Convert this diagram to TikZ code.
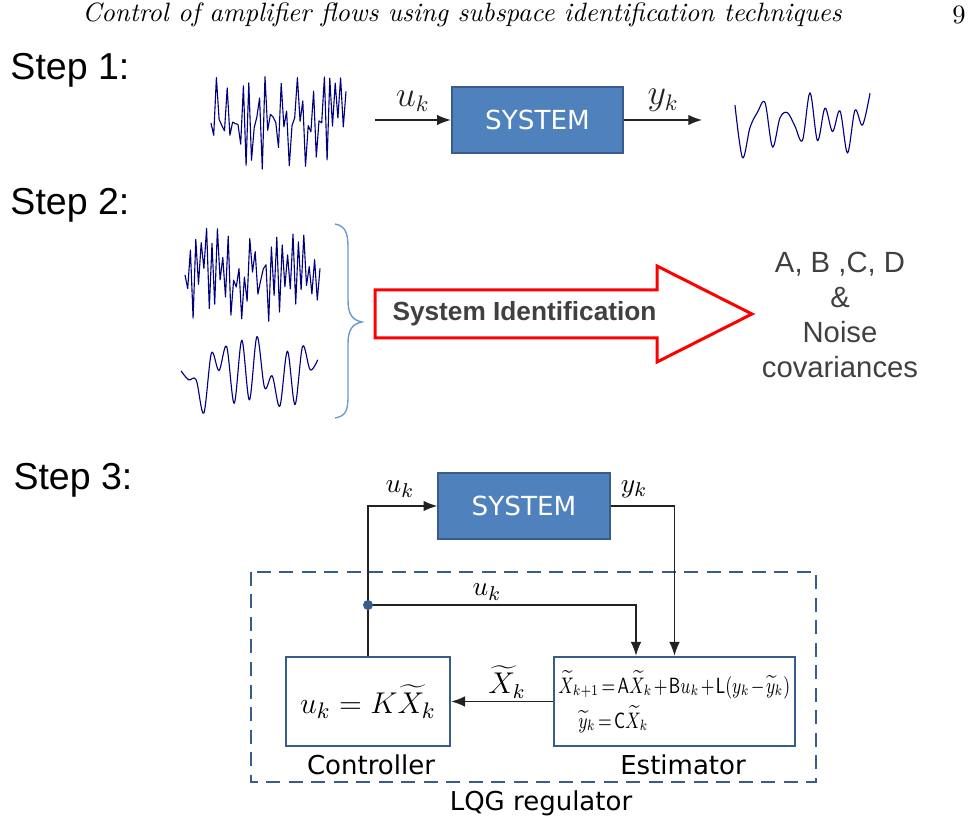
\documentclass[tikz,border=0pt]{standalone}
\usepackage{fontspec}
\usepackage{graphicx}
\newfontfamily\labelfont{Liberation Sans}
\newfontfamily\boxfont{DejaVu Sans}
\usetikzlibrary{arrows.meta,calc}
\definecolor{boxblue}{HTML}{4F81BD}
\definecolor{boxedge}{HTML}{385D8A}
\definecolor{sigblue}{HTML}{00007F}
\definecolor{bracecol}{HTML}{6A9BD0}
\definecolor{textgray}{HTML}{404040}
\definecolor{wire}{HTML}{222222}
\tikzset{
  sysbox/.style={draw=boxedge, line width=0.8pt, fill=boxblue, text=white,
    minimum width=68.6pt, minimum height=26.2pt, inner sep=0pt,
    font=\boxfont\fontsize{10.5}{12}\selectfont},
  lqgbox/.style={draw=boxedge, line width=1pt, fill=white,
    minimum height=35.6pt, inner sep=0pt},
  signal/.style={sigblue, line width=0.45pt, line join=round},
  wireline/.style={wire, line width=0.5pt},
  wirearrow/.style={wire, line width=0.5pt, -{Latex[length=5.5pt,width=4.2pt]}},
  steplabel/.style={anchor=west, inner sep=0pt, font=\labelfont\fontsize{15}{18}\selectfont},
  sublabel/.style={inner sep=0pt, font=\boxfont\fontsize{10.4}{12}\selectfont},
  mathlabel/.style={inner sep=0pt, font=\fontsize{11}{13}\selectfont},
  biglabel/.style={inner sep=0pt, font=\fontsize{13.5}{15}\selectfont},
}
% jagged white-noise record: start x, centre y, amplitude, number of steps, step
\newcommand{\noiserec}[5]{%
  \draw[signal] (#1,#2) \foreach \i in {1,...,#4} {
    -- ({#1+\i*#5}, {#2+#3*(2*mod(\i,2)-1)*(-0.15+1.15*rnd)}) };}
% smooth output record: points collected first, then drawn as a smooth plot
\newcommand{\smoothrec}[5]{%
  \gdef\recpts{}%
  \foreach \i in {0,...,#4} {%
    \pgfmathsetmacro\recx{#1+\i*#5}%
    \pgfmathsetmacro\recy{#2+#3*(2*mod(\i,2)-1)*(-0.25+1.25*rnd)}%
    \xdef\recpts{\recpts (\recx,\recy)}%
  }%
  \edef\recdraw{\noexpand\draw[signal] plot[smooth, tension=0.55] coordinates {\recpts};}%
  \recdraw}
\begin{document}
\begin{tikzpicture}[x=0.4pt,y=-0.4pt]
\useasboundingbox (0,0) rectangle (973,824);

% running head
\node[inner sep=0pt, font=\itshape\fontsize{10.6}{12}\selectfont] (head) at (462,15)
  {Control of amplifier flows using subspace identification techniques};
\node[inner sep=0pt, font=\fontsize{10.6}{12}\selectfont] (pagenum) at (959,15) {9};

% ---------------- Step 1 ----------------
\node[steplabel] (s1) at (10,70) {Step 1:};
\pgfmathsetseed{17}
\noiserec{211}{123}{48}{50}{2.7}
\coordinate (in1) at (375,120);
\node[sysbox] (sys1) at (537.5,120) {SYSTEM};
\coordinate (out1) at (702,120);
\draw[wirearrow] (in1) -- (sys1.west) node[midway, above=3pt, biglabel] (u1) {$u_k$};
\draw[wirearrow] (sys1.east) -- (out1) node[midway, above=3pt, biglabel] (y1) {$y_k$};
\pgfmathsetseed{5}
\smoothrec{735}{120}{42}{18}{7.5}

% ---------------- Step 2 ----------------
\node[steplabel] (s2) at (10,205) {Step 2:};
\pgfmathsetseed{23}
\noiserec{185}{275}{47}{50}{2.7}
\pgfmathsetseed{42}
\smoothrec{181}{373}{42}{18}{7.6}
% curly brace gathering both records
\draw[bracecol, line width=0.55pt]
  (335,224) .. controls (345,226) and (348,232) .. (348,248)
  -- (348,300) .. controls (348,314) and (352,320) .. (362,322)
  .. controls (352,324) and (348,330) .. (348,344)
  -- (348,396) .. controls (348,412) and (345,416) .. (335,418);
% identification arrow
\draw[red, line width=1.2pt, fill=white, line join=miter]
  (375,290) -- (657,290) -- (657,266) -- (752,314) -- (657,362) -- (657,338) -- (375,338) -- cycle;
\node[anchor=west, inner sep=0pt, text=textgray, font=\labelfont\bfseries\fontsize{10.5}{12}\selectfont]
  (sid) at (392,314) {System Identification};
\node[align=center, inner sep=0pt, text=textgray, font=\labelfont\fontsize{11.7}{14}\selectfont]
  (res) at (840,315) {A, B ,C, D\\\&\\Noise\\covariances};

% ---------------- Step 3 ----------------
\node[steplabel] (s3) at (13,480) {Step 3:};
\node[sysbox] (sys2) at (524,506) {SYSTEM};
\draw[boxedge, line width=1pt, dash pattern=on 5.6pt off 3.4pt] (251,572) rectangle (816,782);
\node[lqgbox, minimum width=65.6pt, font=\fontsize{12.8}{15}\selectfont] (ctrl) at (368,701.5) {$u_k = K\widetilde{X}_k$};
\node[lqgbox, minimum width=96.4pt, text width=93pt, align=left, font=\fontsize{8.8}{15}\selectfont]
  (est) at (674.5,701.5)
  {\scalebox{0.76}[1]{\medmuskip=1.5mu\thickmuskip=2.5mu
   $\widetilde{X}_{k+1} = \mathsf{A}\widetilde{X}_k + \mathsf{B}u_k + \mathsf{L}(y_k - \widetilde{y}_k)$}\\[-1pt]
   \hspace*{8pt}\scalebox{0.76}[1]{\thickmuskip=2.5mu$\widetilde{y}_k = \mathsf{C}\widetilde{X}_k$}};
\coordinate (tap) at (368,605);
\coordinate (estu) at ($(est.north)+(-38.5,0)$);
\draw[wirearrow] (ctrl.north) |- (sys2.west);
\draw[wirearrow] (sys2.east) -| (est.north);
\draw[wirearrow] (tap) -| (estu);
\draw[wirearrow] (est.west) -- (ctrl.east);
\fill[boxedge] (tap) circle (2pt);
\node[mathlabel] (u2) at (400,489) {$u_k$};
\node[mathlabel] (y2) at (634,489) {$y_k$};
\node[mathlabel] (u3) at (487,592) {$u_k$};
\node[mathlabel, font=\fontsize{11.5}{13}\selectfont] (xk) at (507,682) {$\widetilde{X}_k$};
\node[sublabel] (lc) at (371,765) {Controller};
\node[sublabel] (le) at (683,765) {Estimator};
\node[sublabel] (ll) at (541,803) {LQG regulator};
\end{tikzpicture}
\end{document}
